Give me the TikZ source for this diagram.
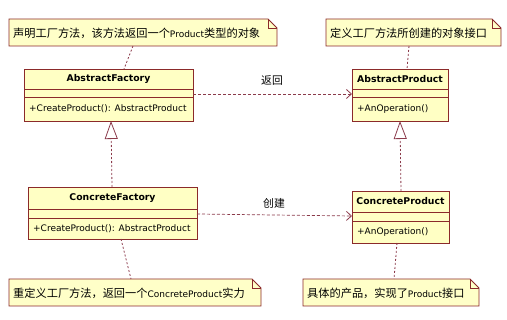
\documentclass[tikz,border=0pt]{standalone}
\usepackage{fontspec}
\setmainfont{DejaVu Sans}
\newfontfamily\cjk{Noto Sans CJK SC}
\usetikzlibrary{arrows.meta}
\definecolor{umlborder}{HTML}{8B2A2A}
\definecolor{umlfill}{HTML}{FFFFC4}
\definecolor{notefill}{HTML}{FFFFC8}
\definecolor{linkcol}{HTML}{8B3A4A}
\newcommand{\zh}{\cjk\fontsize{11.2}{12}\selectfont}
\tikzset{
  cls/.style={draw=umlborder, fill=umlfill, line width=0.8pt},
  notebox/.style={draw=umlborder, fill=notefill, line width=0.8pt},
  notelink/.style={draw=linkcol, line width=0.8pt, dash pattern=on 2pt off 2pt},
  depend/.style={draw=linkcol, line width=0.7pt, dash pattern=on 3pt off 2pt,
    -{Straight Barb[length=5pt,width=9pt,line width=0.8pt]}},
  realize/.style={draw=linkcol, line width=0.8pt, dash pattern=on 2pt off 2pt,
    -{Triangle[open,length=18pt,width=13pt,line width=0.8pt,fill=white]}},
  clsname/.style={font=\fontsize{9.3}{10}\selectfont\bfseries, inner sep=0pt},
  clsop/.style={font=\fontsize{9}{10}\selectfont, inner sep=0pt, anchor=west},
  notetext/.style={font=\fontsize{9}{10}\selectfont, inner sep=0pt, anchor=west},
  lbl/.style={font=\cjk\fontsize{10.8}{12}\selectfont, inner sep=0pt}
}
% class box: #1 name, #2 left, #3 top, #4 right, #5 bottom, #6 name bottom, #7 ops top, #8 title, #9 operation
\newcommand{\umlclass}[9]{%
  \draw[cls] (#2,#3) rectangle (#4,#5);
  \draw[draw=umlborder, line width=0.8pt] (#2,#6) -- (#4,#6) (#2,#7) -- (#4,#7);
  \node[clsname] (#1) at ({(#2+#4)/2},{(#3+#6)/2}) {#8};
  \coordinate (#1-nw) at (#2,#3);
  \coordinate (#1-se) at (#4,#5);
  \node[clsop] (#1-op) at ({#2+5},{(#7+#5)/2}) {#9};
}
% note with folded corner: #1 name, #2 left, #3 top, #4 right, #5 bottom, #6 text
\newcommand{\umlnote}[6]{%
  \draw[notebox] (#2,#3) -- ({#4-9},#3) -- (#4,{#3+9}) -- (#4,#5) -- (#2,#5) -- cycle;
  \draw[draw=umlborder, line width=0.8pt] ({#4-9},#3) -- ({#4-9},{#3+9}) -- (#4,{#3+9});
  \node[notetext] (#1) at ({#2+4},{(#3+#5)/2+1}) {#6};
}
\begin{document}
\begin{tikzpicture}[x=1pt,y=-1pt]
\useasboundingbox (0,0) rectangle (507,320);
\fill[white] (0,0) rectangle (507,320);

% classes
\umlclass{af}{24}{69}{193}{121}{89}{97}{AbstractFactory}{+CreateProduct(): AbstractProduct}
\umlclass{ap}{352}{69}{448}{121}{89}{97}{AbstractProduct}{+AnOperation()}
\umlclass{cf}{28}{187}{197}{239}{209}{218}{ConcreteFactory}{+CreateProduct(): AbstractProduct}
\umlclass{cp}{352}{191}{449}{243}{212}{221}{ConcreteProduct}{+AnOperation()}

% notes
\umlnote{n1}{9}{19}{277}{46}{{\zh 声明工厂方法，该方法返回一个}Product{\zh 类型的对象}}
\umlnote{n2}{326}{19}{501}{46}{{\zh 定义工厂方法所创建的对象接口}}
\umlnote{n3}{9}{279}{261}{306}{{\zh 重定义工厂方法，返回一个}ConcreteProduct{\zh 实力}}
\umlnote{n4}{303}{279}{479}{306}{{\zh 具体的产品，实现了}Product{\zh 接口}}

% anchor points on box edges
\coordinate (n1b) at (133,46);
\coordinate (aft) at (124,69);
\coordinate (n2b) at (409,46);
\coordinate (apt) at (407,69);
\coordinate (afr) at (193,94);
\coordinate (apl) at (352,94);
\coordinate (afb) at (111,121);
\coordinate (cft) at (112,187);
\coordinate (apb) at (400,121);
\coordinate (cpt) at (401,191);
\coordinate (cfr) at (197,214);
\coordinate (cpl) at (352,216);
\coordinate (cfb) at (121,239);
\coordinate (n3t) at (131,279);
\coordinate (cpb) at (397,243);
\coordinate (n4t) at (394,279);

% note links
\draw[notelink] (n1b) -- (aft);
\draw[notelink] (n2b) -- (apt);
\draw[notelink] (cfb) -- (n3t);
\draw[notelink] (cpb) -- (n4t);

% dependencies
\draw[depend] (afr) -- (apl);
\draw[depend] (cfr) -- (cpl);
\node[lbl] (l1) at (272,80) {返回};
\node[lbl] (l2) at (274,203) {创建};

% realizations
\draw[realize] (cft) -- (afb);
\draw[realize] (cpt) -- (apb);
\end{tikzpicture}
\end{document}
